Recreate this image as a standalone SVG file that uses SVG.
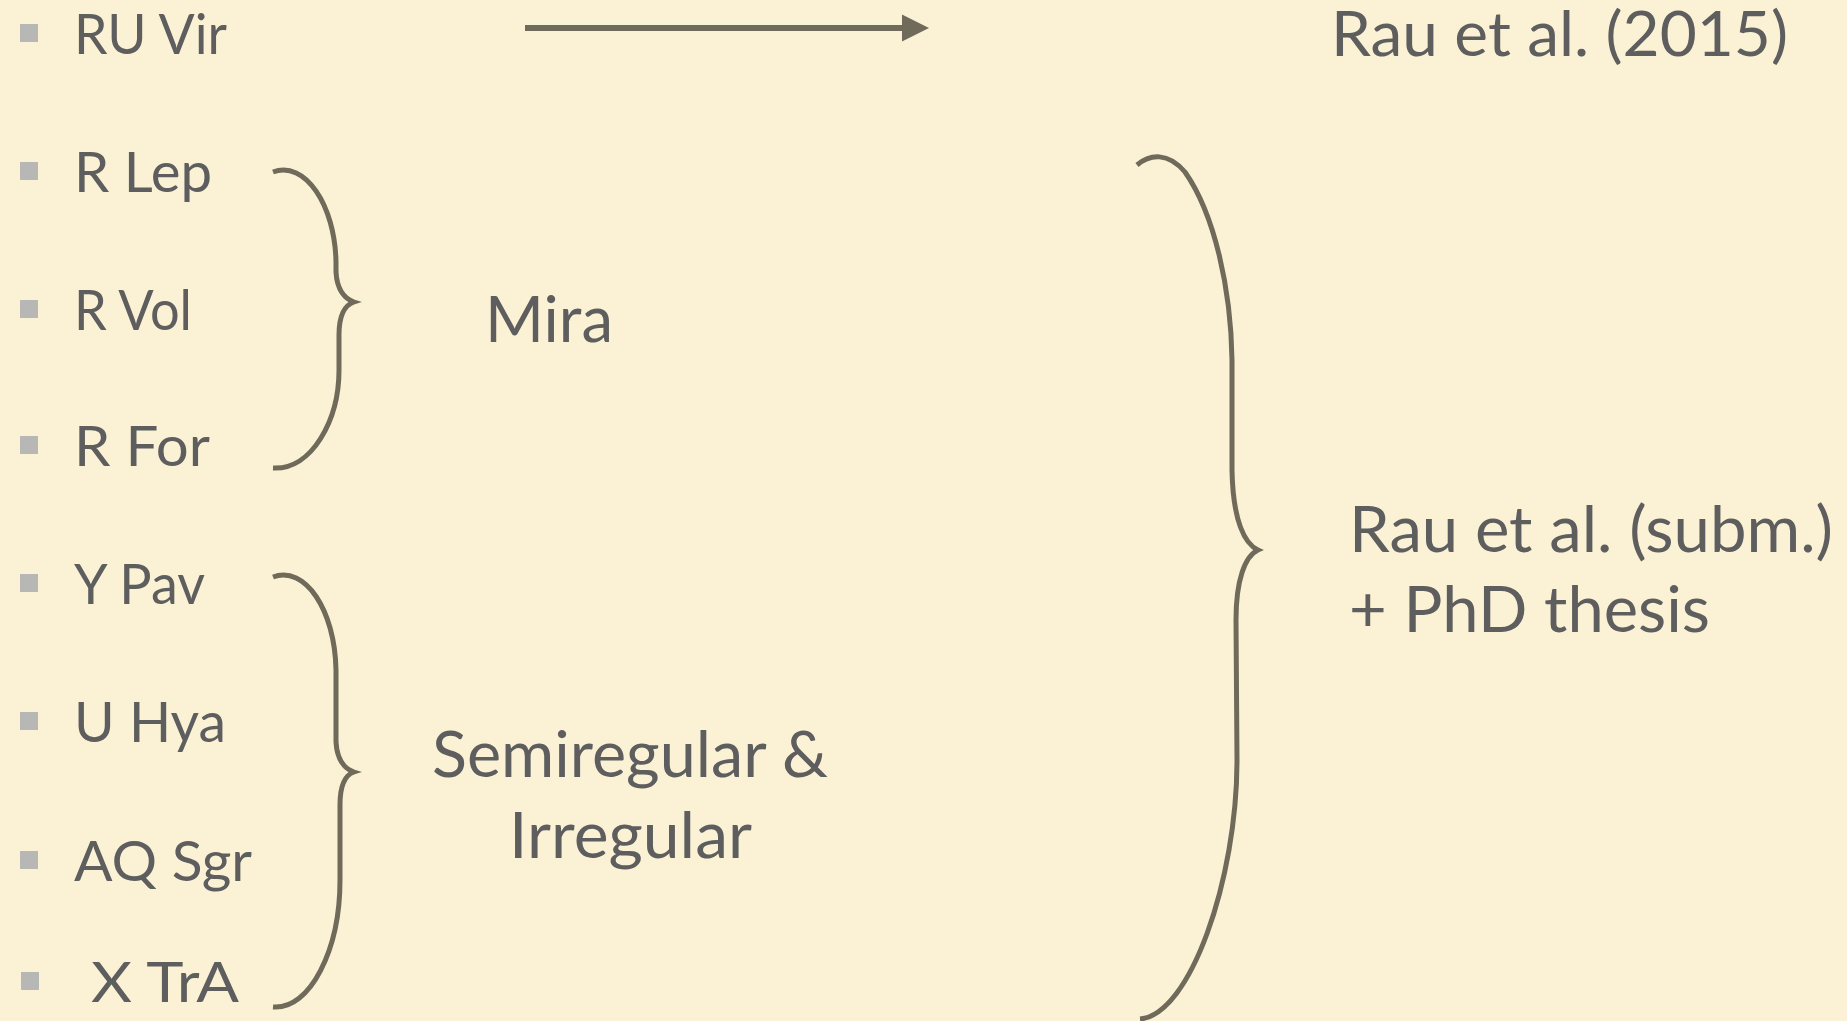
<svg xmlns="http://www.w3.org/2000/svg" width="1847" height="1021" viewBox="0 0 1847 1021">
<defs>
<style>
.t{font-family:Lato,"Open Sans","Liberation Sans",sans-serif;fill:#5e5e5e;}
.item{font-size:57px;}
.big{font-size:64px;}
.b{fill:#b7b7b5;}
.br{fill:none;stroke:#6f6a59;stroke-width:5;stroke-linecap:butt;stroke-linejoin:miter;}
.ar{fill:none;stroke:#6f6a59;stroke-width:6;}
</style>
<marker id="ah" markerUnits="userSpaceOnUse" markerWidth="28" markerHeight="28" refX="1" refY="14" orient="auto">
<path d="M0,0.5 L27,14 L0,27.5 Z" fill="#6f6a59"/>
</marker>
</defs>
<rect width="1847" height="1021" fill="#fbf2d6"/>
<g id="ruvir"><rect class="b" x="20" y="24" width="18" height="18"/><text class="t item" x="74" y="54" textLength="153" lengthAdjust="spacingAndGlyphs">RU Vir</text></g>
<g id="rlep"><rect class="b" x="20" y="162" width="18" height="18"/><text class="t item" x="74" y="192" textLength="138" lengthAdjust="spacingAndGlyphs">R Lep</text></g>
<g id="rvol"><rect class="b" x="20" y="300" width="18" height="18"/><text class="t item" x="74" y="330" textLength="118" lengthAdjust="spacingAndGlyphs">R Vol</text></g>
<g id="rfor"><rect class="b" x="20" y="436" width="18" height="18"/><text class="t item" x="74" y="466" textLength="136" lengthAdjust="spacingAndGlyphs">R For</text></g>
<g id="ypav"><rect class="b" x="20" y="574" width="18" height="18"/><text class="t item" x="74" y="604" textLength="131" lengthAdjust="spacingAndGlyphs">Y Pav</text></g>
<g id="uhya"><rect class="b" x="20" y="712" width="18" height="18"/><text class="t item" x="74" y="742" textLength="152" lengthAdjust="spacingAndGlyphs">U Hya</text></g>
<g id="aqsgr"><rect class="b" x="20" y="851" width="18" height="18"/><text class="t item" x="74" y="881" textLength="178" lengthAdjust="spacingAndGlyphs">AQ Sgr</text></g>
<g id="xtra"><rect class="b" x="21" y="972" width="18" height="18"/><text class="t item" x="91" y="1002" textLength="148" lengthAdjust="spacingAndGlyphs">X TrA</text></g>
<g id="mira"><text class="t big" x="485" y="342" textLength="128" lengthAdjust="spacingAndGlyphs">Mira</text></g>
<g id="semi"><text class="t big" x="432" y="777" textLength="396" lengthAdjust="spacingAndGlyphs">Semiregular &amp;</text><text class="t big" x="509" y="858" textLength="243" lengthAdjust="spacingAndGlyphs">Irregular</text></g>
<g id="rau2015"><text class="t big" x="1331" y="56" style="font-size:61px" textLength="457" lengthAdjust="spacingAndGlyphs">Rau et al. (2015)</text></g>
<g id="rausubm"><text class="t big" x="1349" y="552" textLength="484" lengthAdjust="spacingAndGlyphs">Rau et al. (subm.)</text><text class="t big" x="1349" y="632" textLength="361" lengthAdjust="spacingAndGlyphs">+ PhD thesis</text></g>
<g id="connectors">
<path class="ar" d="M525,28 L903,28" marker-end="url(#ah)"/>
<path class="br" d="M273,172 C305,160 335,205 336,262 L336,272 C337,290 345,299 354,302 C345,305 339,316 339,335 L339,370 C339,420 312,470 273,468"/>
<path class="br" d="M273,577 C305,565 335,610 336,670 L336,742 C337,760 345,769 354,772 C345,775 340,787 340,805 L340,880 C340,950 310,1010 273,1007"/>
<path class="br" d="M1137,165 C1150,154 1168,152 1185,172 C1215,215 1231,290 1232,360 L1232,470 C1233,522 1245,544 1258,550 C1245,556 1236,580 1236,620 L1237,760 C1237,880 1190,1015 1140,1019"/>
</g>
</svg>
